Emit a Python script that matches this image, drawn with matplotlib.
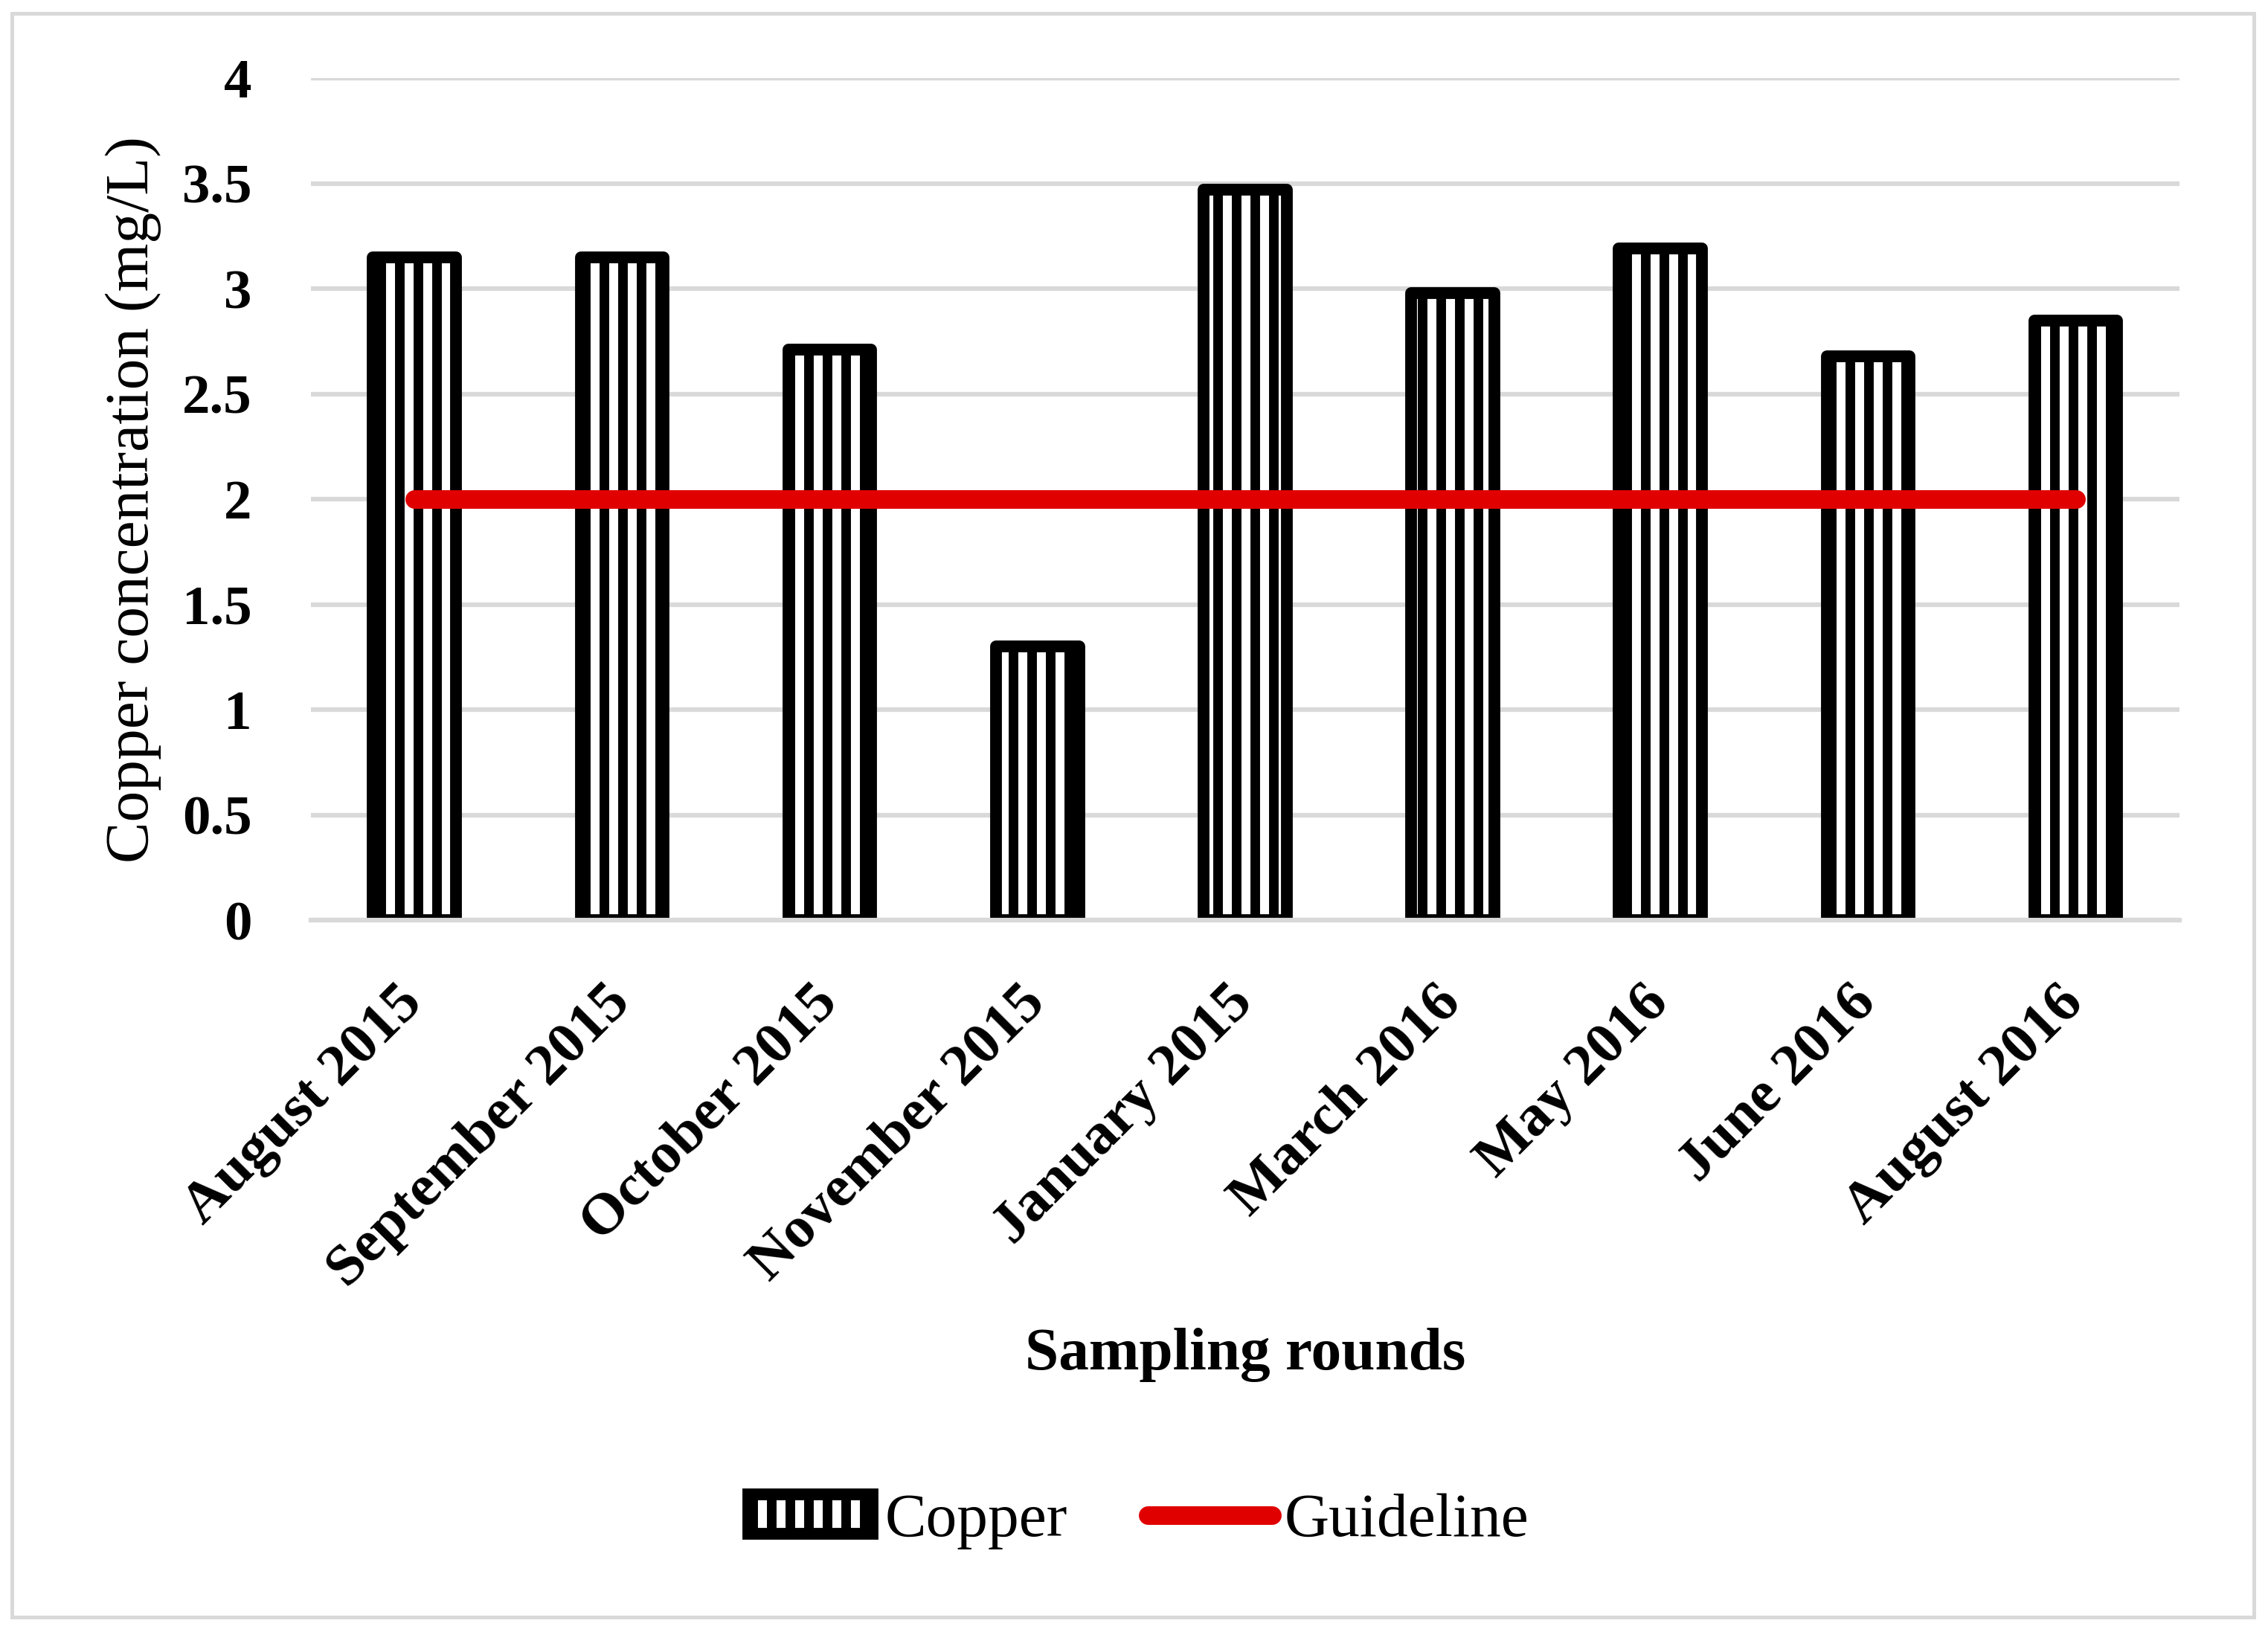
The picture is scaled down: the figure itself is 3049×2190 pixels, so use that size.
import matplotlib.pyplot as plt
import matplotlib.patches as mpatches

# Copper concentrations per sampling round (mg/L)
rounds = ['August 2015', 'September 2015', 'October 2015', 'November 2015',
          'January 2015', 'March 2016', 'May 2016', 'June 2016', 'August 2016']
copper = [3.15, 3.15, 2.71, 1.30, 3.47, 2.98, 3.19, 2.68, 2.85]
guideline = [2, 2, 2, 2, 2, 2, 2, 2, 2]
y_ticks = [0, 0.5, 1, 1.5, 2, 2.5, 3, 3.5, 4]
y_tick_labels = ['0', '0.5', '1', '1.5', '2', '2.5', '3', '3.5', '4']

plt.rcParams['font.family'] = ['Liberation Serif', 'DejaVu Serif']
plt.rcParams['hatch.linewidth'] = 3.1

fig = plt.figure(figsize=(3049 / 300, 2190 / 300), dpi=300)
ax = fig.add_axes([0.137, 0.435, 0.824, 0.517])

x = list(range(len(rounds)))
bars = ax.bar(x, copper, width=0.40, color='white', edgecolor='black',
              linewidth=3.8, hatch='||', joinstyle='round', label='Copper', zorder=1)
line, = ax.plot(x, guideline, color='#E00000', linewidth=6,
                solid_capstyle='round', label='Guideline', zorder=3)

ax.set_xlim(-0.5, len(rounds) - 0.5)
ax.set_ylim(0, 4)
ax.set_yticks(y_ticks)
ax.set_yticklabels(y_tick_labels, fontsize=18, fontweight='bold')
ax.set_xticks(x)
ax.set_xticklabels(rounds, rotation=45, ha='right', va='center',
                   rotation_mode='anchor', fontsize=19, fontweight='bold')
ax.tick_params(length=0)
ax.tick_params(axis='x', pad=24)
ax.tick_params(axis='y', pad=19)

ax.set_axisbelow(True)
ax.yaxis.grid(True, color='#D9D9D9', linewidth=1.5)
for s in ['top', 'left', 'right']:
    ax.spines[s].set_visible(False)
ax.spines['bottom'].set_color('#D9D9D9')
ax.spines['bottom'].set_linewidth(1.5)

ax.set_ylabel('Copper concentration (mg/L)', fontsize=20)
ax.yaxis.set_label_coords(-0.08, 0.5)
fig.text(0.5 * (0.137 + 0.961), 1 - 1822 / 2190, 'Sampling rounds',
         fontsize=19.5, fontweight='bold', ha='center', va='center')

fig.legend(handles=[bars, line], loc='center', bbox_to_anchor=(0.502, 0.066),
           ncol=2, frameon=False, fontsize=20, handlelength=2.0,
           handleheight=0.6, handletextpad=0.2, columnspacing=1.3)

fig.patches.append(mpatches.Rectangle((16 / 3049, 16 / 2190), 1 - 35 / 3049, 1 - 34 / 2190,
                                      transform=fig.transFigure, fill=False,
                                      edgecolor='#D9D9D9', linewidth=1.2))

fig.savefig('out.png', dpi=300)
